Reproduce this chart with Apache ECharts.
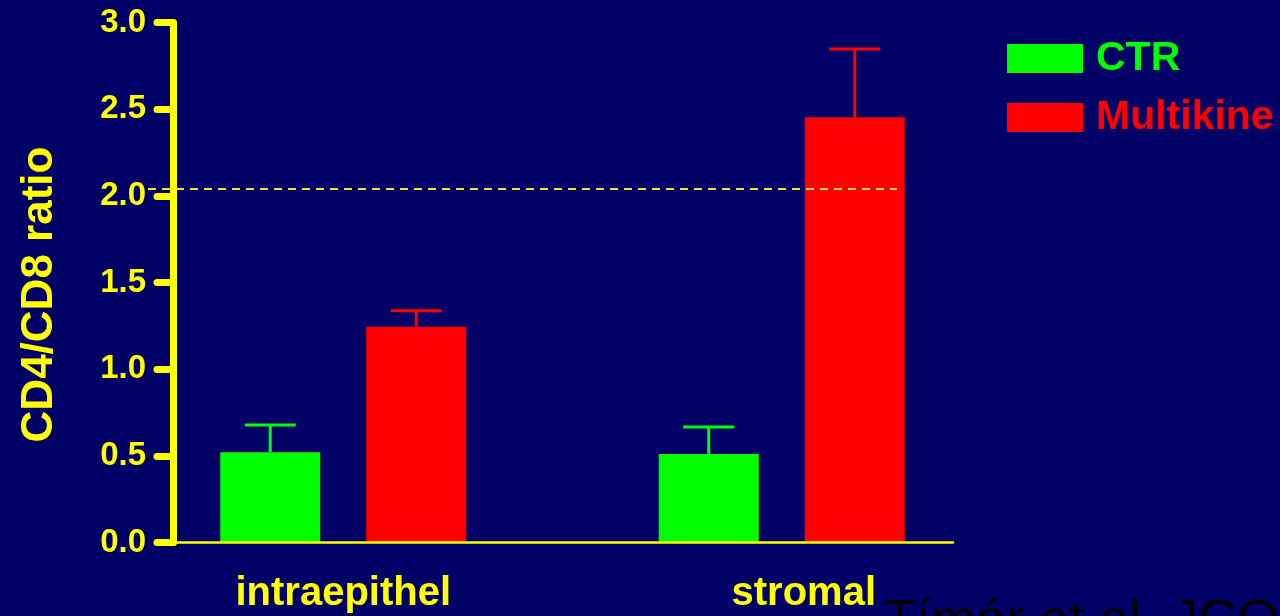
<!DOCTYPE html>
<html style="height: 100%">

<head>
    <meta charset="utf-8">
</head>

<body style="height: 100%; margin: 0; background: #000066">
    <div id="container" style="width: 1280px; height: 616px"></div>
    <script type="text/javascript" src="https://cdn.jsdelivr.net/npm/echarts@6/dist/echarts.min.js"></script>
    <script type="text/javascript">
        // data
        var categories = ['intraepithel', 'stromal'];
        var ctrValues = [0.52, 0.511];
        var ctrErrors = [0.158, 0.155];
        var multikineValues = [1.245, 2.453];
        var multikineErrors = [0.092, 0.394];
        var refLine = 2.04;
        var yTicks = [0, 3, 0.5];   // min, max, interval

        var FONT = '"Liberation Sans", Arial, sans-serif';
        var YELLOW = '#ffff00';
        var GREEN = '#00ff00';
        var RED = '#ff0000';
        var BAR_W = 100, BAR_GAP = 46;

        var dom = document.getElementById("container");
        var myChart = echarts.init(dom);

        // error bar (upper only) drawn through the axis scale
        function errorBar(offset, color) {
            return function (params, api) {
                var i = api.value(0);
                var base = api.coord([i, api.value(1)]);
                var top = api.coord([i, api.value(1) + api.value(2)]);
                var x = base[0] + offset;
                return {
                    type: 'group',
                    children: [
                        { type: 'line', shape: { x1: x, y1: base[1], x2: x, y2: top[1] }, style: { stroke: color, lineWidth: 3 } },
                        { type: 'line', shape: { x1: x - 25.5, y1: top[1], x2: x + 25.5, y2: top[1] }, style: { stroke: color, lineWidth: 3 } }
                    ]
                };
            };
        }

        var yBase = { type: 'value', min: yTicks[0], max: yTicks[1], interval: yTicks[2] };
        var hiddenY = Object.assign({}, yBase, { show: false });

        option = {
            backgroundColor: '#000066',
            animation: false,
            textStyle: { fontFamily: FONT },
            grid: [
                { left: 173, right: 327, top: 22.5, bottom: 73.5 },   // visible axes
                { left: 124, right: 279, top: 22.5, bottom: 73.5 },   // bars
                { left: 148, right: 383, top: 22.5, bottom: 73.5 }    // dashed reference
            ],
            legend: {
                orient: 'vertical',
                left: 1002,
                top: 33,
                itemWidth: 76,
                itemHeight: 29,
                itemGap: 18,
                icon: 'rect',
                data: [
                    { name: 'CTR', textStyle: { color: GREEN } },
                    { name: 'Multikine', textStyle: { color: RED } }
                ],
                textStyle: {
                    fontSize: 41, fontWeight: 'bold', fontFamily: FONT,
                    lineHeight: 29, padding: [0, 0, 0, 8]
                }
            },
            xAxis: [
                {
                    gridIndex: 0, type: 'value', min: 0, max: 1, z: 5,
                    axisLine: { show: true, onZero: false, lineStyle: { color: YELLOW, width: 2.5 } },
                    axisTick: { show: false }, axisLabel: { show: false }, splitLine: { show: false }
                },
                {
                    gridIndex: 1, type: 'category',
                    data: categories.map(function (c, i) {
                        return i === 1 ? { value: c, textStyle: { padding: [0, 0, 0, 44] } } : c;
                    }),
                    axisLine: { show: false }, axisTick: { show: false },
                    axisLabel: { color: YELLOW, fontSize: 40, fontWeight: 'bold', fontFamily: FONT, margin: 31 }
                },
                { gridIndex: 2, type: 'value', min: 0, max: 1, show: false }
            ],
            yAxis: [
                Object.assign({}, yBase, {
                    gridIndex: 0,
                    name: 'CD4/CD8 ratio',
                    nameLocation: 'middle',
                    nameGap: 111,
                    nameTextStyle: { color: YELLOW, fontSize: 44, fontWeight: 'bold', fontFamily: FONT, padding: [0, 24, 0, 0] },
                    axisLine: { show: true, lineStyle: { color: YELLOW, width: 7, cap: 'round' } },
                    axisTick: { show: true, length: 16, lineStyle: { color: YELLOW, width: 7, cap: 'round' } },
                    axisLabel: {
                        color: YELLOW, fontSize: 33, fontWeight: 'bold', fontFamily: FONT, margin: 27,
                        formatter: function (v) { return v.toFixed(1); }
                    },
                    splitLine: { show: false }
                }),
                Object.assign({}, hiddenY, { gridIndex: 1 }),
                Object.assign({}, hiddenY, { gridIndex: 2 })
            ],
            series: [
                {
                    name: 'CTR', type: 'bar', xAxisIndex: 1, yAxisIndex: 1,
                    barWidth: BAR_W, barGap: (BAR_GAP / BAR_W * 100) + '%',
                    itemStyle: { color: GREEN }, data: ctrValues
                },
                {
                    name: 'Multikine', type: 'bar', xAxisIndex: 1, yAxisIndex: 1,
                    barWidth: BAR_W,
                    itemStyle: { color: RED }, data: multikineValues
                },
                {
                    type: 'custom', xAxisIndex: 1, yAxisIndex: 1, z: 3,
                    renderItem: errorBar(-(BAR_W + BAR_GAP) / 2, GREEN),
                    data: ctrValues.map(function (v, i) { return [i, v, ctrErrors[i]]; })
                },
                {
                    type: 'custom', xAxisIndex: 1, yAxisIndex: 1, z: 3,
                    renderItem: errorBar((BAR_W + BAR_GAP) / 2, RED),
                    data: multikineValues.map(function (v, i) { return [i, v, multikineErrors[i]]; })
                },
                {
                    type: 'line', xAxisIndex: 2, yAxisIndex: 2, data: [], z: 4,
                    markLine: {
                        silent: true, symbol: 'none', label: { show: false },
                        lineStyle: { color: '#ffdd33', type: [8, 6], width: 2 },
                        data: [{ yAxis: refLine }]
                    }
                }
            ],
            graphic: [
                {
                    type: 'text', left: 883, top: 595, silent: true,
                    style: { text: 'Tímár et al. JCO', fill: '#000000', font: '54px ' + FONT }
                }
            ]
        };

        if (option && typeof option === "object") {
            myChart.setOption(option, true);
        }
    </script>
</body>

</html>
